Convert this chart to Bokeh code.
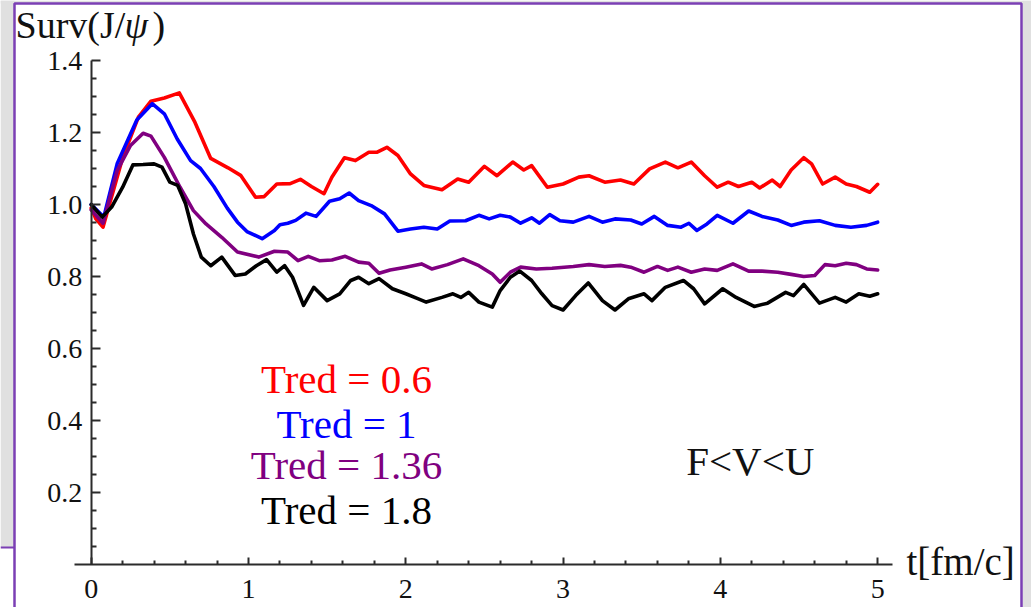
from bokeh.plotting import figure
from bokeh.models import Range1d, FixedTicker, Label, BoxAnnotation, PrintfTickFormatter
from bokeh.embed import file_html
from bokeh.resources import INLINE
from bokeh.core.properties import value

# ---------------- data ----------------
t_red = [0.0, 0.03, 0.075, 0.2, 0.3, 0.38, 0.465, 0.56, 0.66, 0.76, 0.87, 0.95, 1.045, 1.1, 1.18, 1.265, 1.33, 1.4, 1.48,
         1.53, 1.61, 1.68, 1.765, 1.815, 1.88, 1.95, 2.03, 2.115, 2.23, 2.33, 2.4, 2.5, 2.58, 2.68, 2.75, 2.8, 2.9, 3.0,
         3.1, 3.165, 3.265, 3.365, 3.45, 3.55, 3.65, 3.73, 3.815, 3.9, 3.98, 4.05, 4.115, 4.2, 4.25, 4.33, 4.38, 4.45,
         4.53, 4.58, 4.65, 4.73, 4.8, 4.865, 4.95, 5.0]
surv_red = [0.99, 0.96, 0.937, 1.13, 1.243, 1.287, 1.296, 1.31, 1.228, 1.128, 1.102, 1.081, 1.02, 1.022, 1.057, 1.058,
            1.07, 1.05, 1.03, 1.076, 1.13, 1.122, 1.145, 1.145, 1.159, 1.136, 1.085, 1.053, 1.041, 1.071, 1.062, 1.106,
            1.08, 1.118, 1.096, 1.108, 1.048, 1.057, 1.076, 1.08, 1.062, 1.068, 1.057, 1.099, 1.118, 1.102, 1.118, 1.08,
            1.048, 1.062, 1.05, 1.062, 1.046, 1.068, 1.05, 1.096, 1.13, 1.113, 1.057, 1.076, 1.057, 1.05, 1.034, 1.056]

t_blue = [0.0, 0.08, 0.165, 0.29, 0.388, 0.465, 0.547, 0.632, 0.695, 0.78, 0.865, 0.93, 0.99, 1.087, 1.165, 1.2, 1.25,
          1.3, 1.365, 1.43, 1.515, 1.58, 1.64, 1.7, 1.78, 1.865, 1.95, 2.03, 2.115, 2.2, 2.28, 2.38, 2.465, 2.53, 2.6,
          2.665, 2.73, 2.8, 2.85, 2.915, 2.98, 3.065, 3.165, 3.25, 3.33, 3.43, 3.5, 3.58, 3.665, 3.75, 3.8, 3.85, 3.915,
          3.98, 4.08, 4.18, 4.265, 4.365, 4.45, 4.53, 4.63, 4.73, 4.83, 4.93, 5.0]
surv_blue = [1.0, 0.965, 1.113, 1.235, 1.28, 1.252, 1.182, 1.122, 1.1, 1.05, 0.99, 0.951, 0.925, 0.905, 0.928, 0.944,
             0.948, 0.956, 0.976, 0.967, 1.009, 1.016, 1.032, 1.011, 0.997, 0.974, 0.926, 0.932, 0.937, 0.932, 0.954,
             0.955, 0.97, 0.96, 0.97, 0.965, 0.948, 0.963, 0.948, 0.972, 0.955, 0.951, 0.967, 0.951, 0.96, 0.957, 0.946,
             0.967, 0.942, 0.937, 0.948, 0.928, 0.946, 0.97, 0.948, 0.982, 0.967, 0.957, 0.942, 0.951, 0.955, 0.942,
             0.937, 0.942, 0.951]

t_purple = [0.0, 0.075, 0.165, 0.25, 0.33, 0.38, 0.465, 0.565, 0.65, 0.73, 0.83, 0.93, 1.065, 1.165, 1.25, 1.315, 1.38,
            1.45, 1.53, 1.615, 1.7, 1.765, 1.83, 1.9, 2.0, 2.1, 2.165, 2.265, 2.365, 2.465, 2.55, 2.6, 2.665, 2.73, 2.83,
            2.93, 3.065, 3.165, 3.265, 3.365, 3.43, 3.515, 3.6, 3.665, 3.73, 3.815, 3.9, 3.98, 4.08, 4.18, 4.265, 4.365,
            4.45, 4.53, 4.6, 4.665, 4.73, 4.8, 4.865, 4.93, 5.0]
surv_purple = [0.985, 0.948, 1.094, 1.164, 1.198, 1.19, 1.131, 1.048, 0.983, 0.946, 0.909, 0.868, 0.854, 0.87, 0.868,
               0.844, 0.856, 0.844, 0.846, 0.856, 0.84, 0.837, 0.809, 0.818, 0.826, 0.835, 0.821, 0.833, 0.849, 0.83,
               0.807, 0.784, 0.812, 0.826, 0.821, 0.823, 0.828, 0.833, 0.828, 0.831, 0.826, 0.812, 0.828, 0.817, 0.826,
               0.812, 0.821, 0.817, 0.835, 0.815, 0.815, 0.812, 0.806, 0.8, 0.803, 0.833, 0.83, 0.837, 0.833, 0.821,
               0.818]

t_black = [0.0, 0.07, 0.13, 0.2, 0.265, 0.33, 0.4, 0.45, 0.5, 0.55, 0.6, 0.65, 0.7, 0.76, 0.83, 0.915, 0.98, 1.05,
           1.115, 1.18, 1.23, 1.28, 1.35, 1.415, 1.5, 1.58, 1.65, 1.7, 1.765, 1.83, 1.915, 2.0, 2.08, 2.13, 2.23, 2.3,
           2.35, 2.4, 2.465, 2.55, 2.6, 2.665, 2.725, 2.8, 2.865, 2.93, 3.0, 3.08, 3.16, 3.25, 3.33, 3.415, 3.515, 3.565,
           3.65, 3.765, 3.83, 3.9, 4.015, 4.1, 4.215, 4.3, 4.415, 4.465, 4.53, 4.63, 4.73, 4.8, 4.88, 4.95, 5.0]
surv_black = [1.0, 0.965, 0.993, 1.048, 1.11, 1.111, 1.113, 1.104, 1.062, 1.053, 1.002, 0.918, 0.854, 0.83, 0.854,
              0.803, 0.807, 0.83, 0.847, 0.812, 0.83, 0.798, 0.72, 0.77, 0.733, 0.752, 0.789, 0.798, 0.78, 0.794, 0.766,
              0.752, 0.738, 0.729, 0.742, 0.752, 0.742, 0.756, 0.729, 0.715, 0.761, 0.798, 0.815, 0.789, 0.752, 0.719,
              0.707, 0.747, 0.782, 0.733, 0.707, 0.738, 0.752, 0.733, 0.77, 0.789, 0.766, 0.724, 0.766, 0.742, 0.717,
              0.726, 0.756, 0.747, 0.778, 0.726, 0.742, 0.729, 0.752, 0.745, 0.752]

series_colors = ["#ff0000", "#0000ff", "#800080", "#000000"]
legend_labels = ["Tred = 0.6", "Tred = 1", "Tred = 1.36", "Tred = 1.8"]
legend_x = [1.623, 1.623, 1.623, 1.623]
legend_y = [0.515, 0.390, 0.277, 0.152]

x_ticks = [0, 1, 2, 3, 4, 5]
x_minor = [0.2, 0.4, 0.6, 0.8, 1.2, 1.4, 1.6, 1.8, 2.2, 2.4, 2.6, 2.8, 3.2, 3.4, 3.6, 3.8, 4.2, 4.4, 4.6, 4.8]
y_ticks = [0.2, 0.4, 0.6, 0.8, 1.0, 1.2, 1.4]
y_minor = [0.05, 0.1, 0.15, 0.25, 0.3, 0.35, 0.45, 0.5, 0.55, 0.65, 0.7, 0.75, 0.85, 0.9, 0.95,
           1.05, 1.1, 1.15, 1.25, 1.3, 1.35]

SERIF = "Liberation Serif"
GRAY = "#e0e0e0"
PURPLE = "#7b3fb4"
AXIS = "#2b2b2b"
W, H = 1031, 607

# ---------------- figure: the frame fills the whole canvas, axes sit at fixed locations ----------------
p = figure(width=W, height=H, x_range=Range1d(-0.5766, 5.978), y_range=Range1d(-0.1194, 1.5667),
           output_backend="svg", toolbar_location=None,
           min_border=0, min_border_left=0, min_border_right=0, min_border_top=0, min_border_bottom=0)
p.background_fill_color = "white"
p.border_fill_color = "white"
p.outline_line_color = None
p.xgrid.visible = False
p.ygrid.visible = False


def sbox(left, right, top, bottom, **kw):
    # canvas pixel coordinates (top-left origin) -> screen units of the frame (bottom-left origin)
    return BoxAnnotation(left=left, right=right, top=H - top, bottom=H - bottom, left_units="screen",
                         right_units="screen", top_units="screen", bottom_units="screen", level="underlay", **kw)


# slide-like surroundings: gray strips and purple frame
for l, r, t, b, c in [(0, 14, 0, 547, GRAY), (0, W, 0, 3, GRAY), (1022, W, 0, H, GRAY), (0, 14, 546, 548, PURPLE)]:
    p.add_layout(sbox(l, r, t, b, fill_color=c, fill_alpha=1.0, line_color=None))
p.add_layout(sbox(14, 1021, 3, H + 10, fill_color=None, fill_alpha=0, line_color=PURPLE, line_alpha=1.0,
                  line_width=2.5))

for ax in (p.xaxis[0], p.yaxis[0]):
    ax.axis_line_color = AXIS
    ax.axis_line_width = 2
    ax.major_tick_line_color = AXIS
    ax.major_tick_line_width = 2
    ax.minor_tick_line_color = AXIS
    ax.minor_tick_line_width = 2
    ax.major_label_text_font = SERIF
    ax.major_label_text_font_size = "28px"
    ax.major_label_text_color = "#111111"

xa = p.xaxis[0]
xa.ticker = FixedTicker(ticks=x_ticks, minor_ticks=x_minor)
xa.fixed_location = 0
xa.bounds = (-0.106, 5.094)
xa.major_tick_in = 7
xa.major_tick_out = 0
xa.minor_tick_in = 4
xa.minor_tick_out = 0
xa.major_label_standoff = 15

ya = p.yaxis[0]
ya.ticker = FixedTicker(ticks=y_ticks, minor_ticks=y_minor)
ya.formatter = PrintfTickFormatter(format="%.1f")
ya.fixed_location = 0
ya.bounds = (0, 1.4)
ya.major_tick_in = 9
ya.major_tick_out = 0
ya.minor_tick_in = 5
ya.minor_tick_out = 0
ya.major_label_standoff = 9

# curves
for tt, ss, c in [(t_red, surv_red, series_colors[0]), (t_blue, surv_blue, series_colors[1]),
                  (t_purple, surv_purple, series_colors[2]), (t_black, surv_black, series_colors[3])]:
    p.line(tt, ss, line_color=c, line_width=3.6, line_join="round", line_cap="round")

# legend-like texts
p.text(x=legend_x, y=legend_y, text=legend_labels, text_color=series_colors,
       text_font=value(SERIF), text_font_size=value("41px"), text_align="center", text_baseline="alphabetic")
p.add_layout(Label(x=4.19, y=0.287, text="F<V<U", text_font=SERIF, text_font_size="41px",
                   text_align="center", text_baseline="alphabetic", text_color="#111111"))

# axis titles (canvas pixel positions converted to frame screen units)
common = dict(x_units="screen", y_units="screen", text_font=SERIF, text_font_size="38px",
              text_baseline="alphabetic", text_align="left", text_color="#111111")
p.add_layout(Label(x=15, y=H - 24, text="Surv(J/", **common))
p.add_layout(Label(x=124, y=H - 24, text="ψ", text_font_style="italic",
                   **{k: v for k, v in common.items()}))
p.add_layout(Label(x=152, y=H - 24, text=")", **common))
p.add_layout(Label(x=906, y=H - 561, text="t[fm/c]", **dict(common, text_font_size="39px")))

open("out.html", "w").write(file_html(p, INLINE))
